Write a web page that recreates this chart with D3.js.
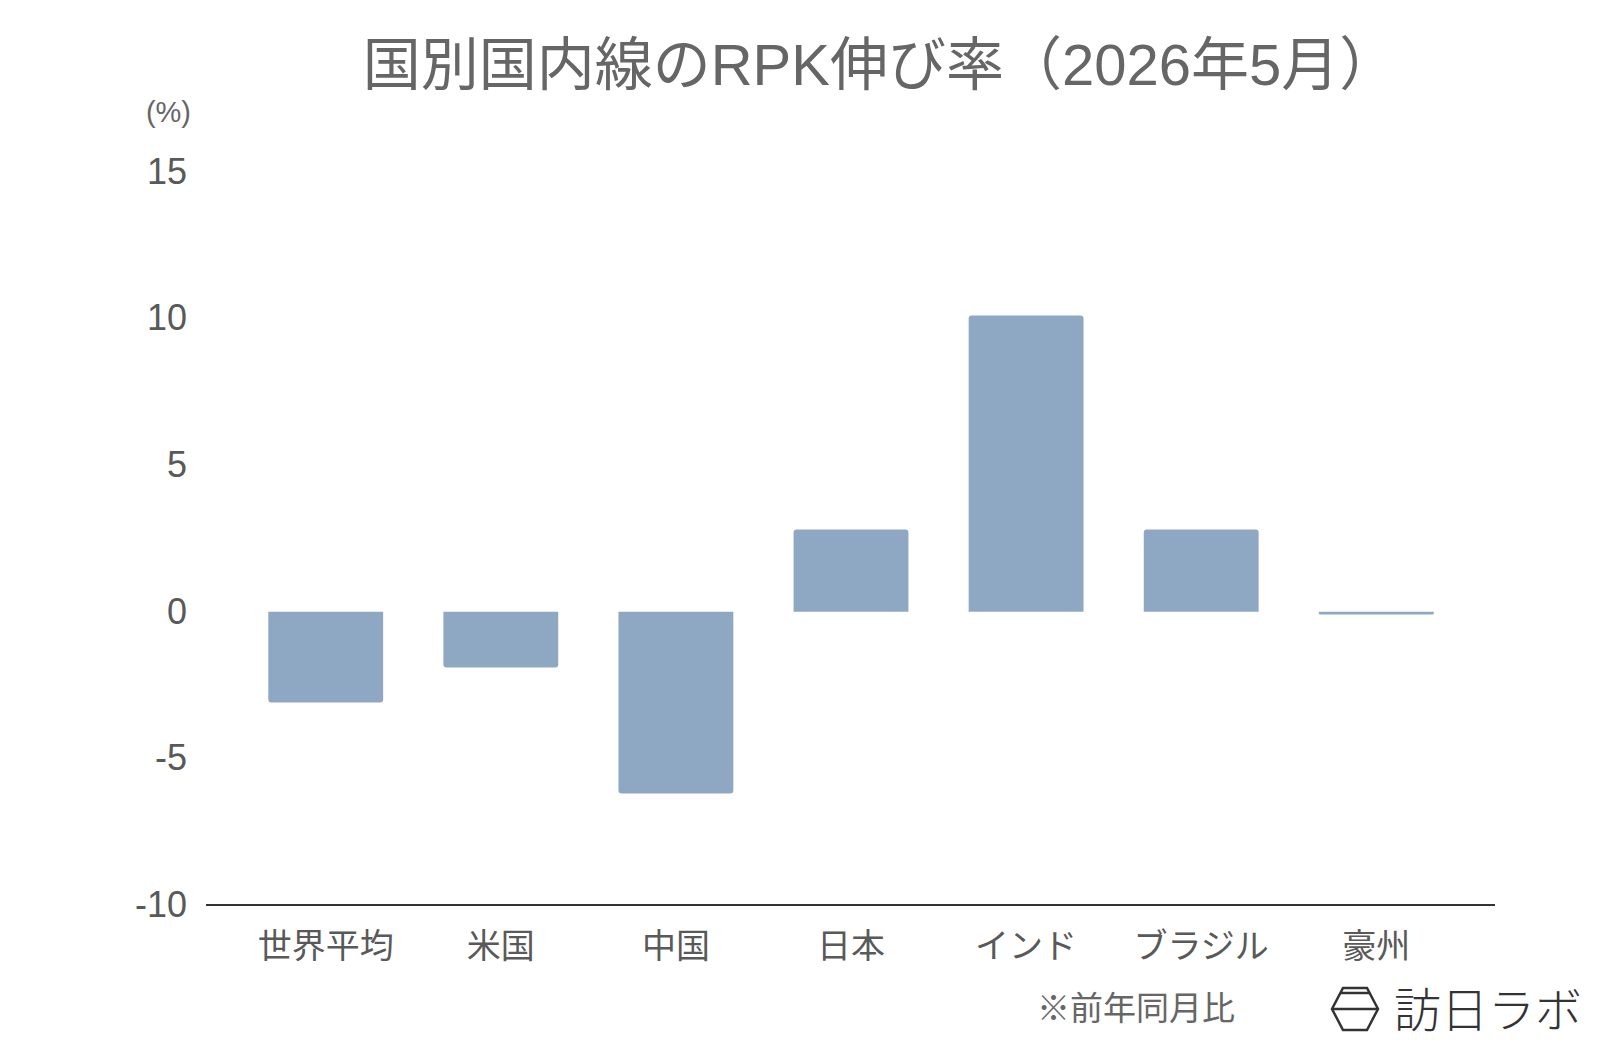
<!DOCTYPE html>
<html>
<head>
<meta charset="utf-8">
<script src="https://cdn.jsdelivr.net/npm/d3@7"></script>
<style>
  body { margin: 0; background: #fff; }
  svg { display: block; }
</style>
</head>
<body>
<script>
'use strict';
const categories = ["世界平均", "米国", "中国", "日本", "インド", "ブラジル", "豪州"]
const growth = [-3.1, -1.9, -6.2, 2.8, 10.1, 2.8, -0.1]
const yTicks = [-10, -5, 0, 5, 10, 15]

const font = "'Liberation Sans', 'Noto Sans CJK JP', sans-serif"

const svg = d3.select("body").append("svg")
    .attr("width", 1600)
    .attr("height", 1045)

const x = d3.scaleBand()
    .domain(categories)
    .range([207, 1495])
    .paddingInner(0.344)
    .paddingOuter(0.35)

const y = d3.scaleLinear()
    .domain([-10, 15])
    .range([905, 171.7])

// title
svg.append("text")
    .attr("x", 880)
    .attr("y", 85)
    .attr("text-anchor", "middle")
    .attr("font-family", font)
    .attr("font-size", "58px")
    .attr("fill", "#666")
    .text("国別国内線のRPK伸び率（2026年5月）")

// unit label
svg.append("text")
    .attr("x", 191)
    .attr("y", 122)
    .attr("text-anchor", "end")
    .attr("font-family", font)
    .attr("font-size", "29px")
    .attr("fill", "#666")
    .text("(%)")

// y axis (labels only)
svg.append("g")
    .attr("transform", "translate(190,0)")
    .call(d3.axisLeft(y).tickValues(yTicks).tickSize(0).tickPadding(3).tickFormat(d => String(d)))
    .call(g => g.select(".domain").remove())
    .call(g => g.selectAll("text")
        .attr("font-family", font)
        .attr("font-size", "36px")
        .attr("fill", "#595959"))

// bars with slightly rounded outer corners
function barPath(d) {
    const x0 = x(d.cat), x1 = x0 + x.bandwidth()
    const y0 = y(0), y1 = y(d.v)
    const r = Math.min(3, Math.abs(y1 - y0) / 2)
    const s = y1 < y0 ? 1 : -1
    const p = d3.path()
    p.moveTo(x0, y0)
    p.lineTo(x0, y1 + s * r)
    p.quadraticCurveTo(x0, y1, x0 + r, y1)
    p.lineTo(x1 - r, y1)
    p.quadraticCurveTo(x1, y1, x1, y1 + s * r)
    p.lineTo(x1, y0)
    p.closePath()
    return p.toString()
}

svg.append("g")
    .selectAll("path")
    .data(categories.map((c, i) => ({cat: c, v: growth[i]})))
    .enter()
    .append("path")
    .attr("d", barPath)
    .attr("fill", "#8ea7c2")

// bottom axis line at -10
svg.append("line")
    .attr("x1", 206)
    .attr("x2", 1495)
    .attr("y1", y(-10))
    .attr("y2", y(-10))
    .attr("stroke", "#333")
    .attr("stroke-width", 2)

// category labels
svg.append("g")
    .attr("transform", "translate(0," + y(-10) + ")")
    .call(d3.axisBottom(x).tickSize(0).tickPadding(29))
    .call(g => g.select(".domain").remove())
    .call(g => g.selectAll("text")
        .attr("font-family", "'Noto Sans CJK JP', sans-serif")
        .attr("font-size", "34px")
        .attr("fill", "#595959"))

// note
svg.append("text")
    .attr("x", 1037)
    .attr("y", 1020)
    .attr("font-family", "'Noto Sans CJK JP', sans-serif")
    .attr("font-size", "33px")
    .attr("fill", "#666")
    .text("※前年同月比")

// logo
const logo = svg.append("g")
    .attr("transform", "translate(1332,987)")
    .attr("fill", "none")
    .attr("stroke", "#333")
    .attr("stroke-width", 2.5)
logo.append("polygon")
    .attr("points", "11,1 35,1 46,22 35,43 11,43 0,22")
logo.append("line").attr("x1", 8).attr("x2", 38).attr("y1", 6).attr("y2", 6)
logo.append("line").attr("x1", 0).attr("x2", 46).attr("y1", 22).attr("y2", 22)

svg.append("text")
    .attr("x", 1394)
    .attr("y", 1027)
    .attr("font-family", "'Noto Sans CJK JP', sans-serif")
    .attr("font-weight", 200)
    .attr("font-size", "47px")
    .attr("fill", "#333")
    .text("訪日ラボ")
</script>
</body>
</html>
